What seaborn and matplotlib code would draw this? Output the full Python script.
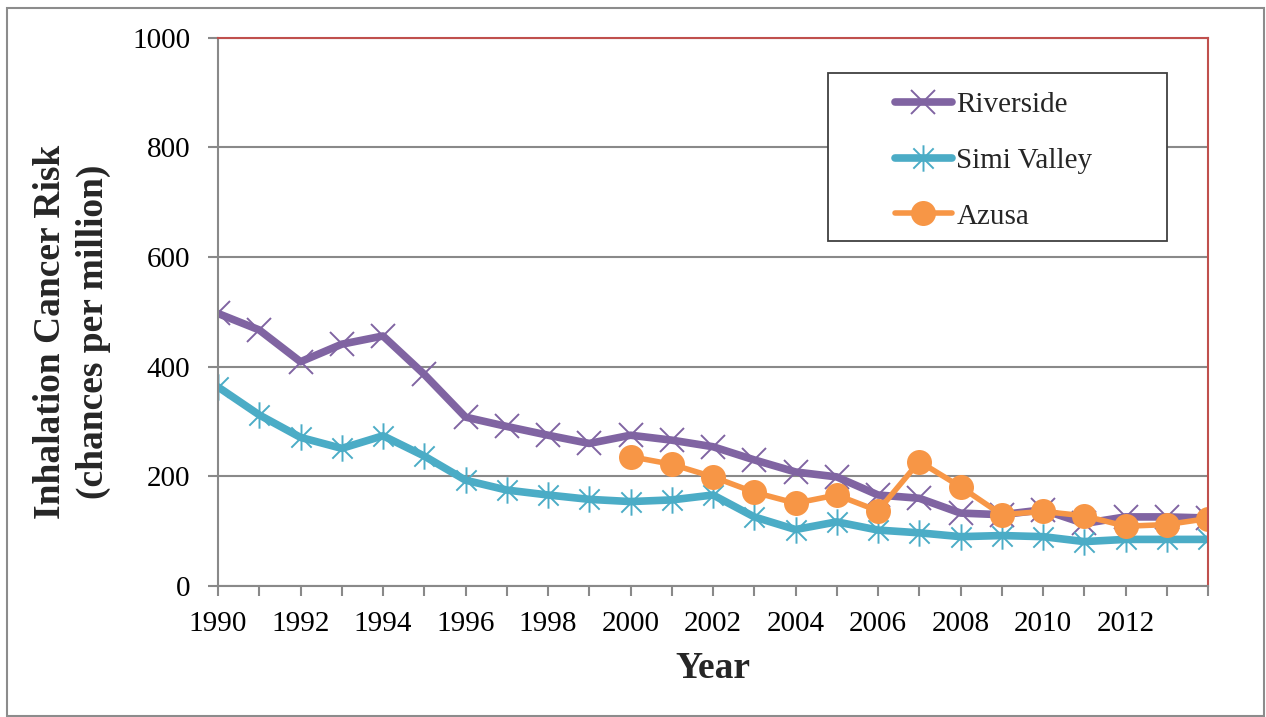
import numpy as np
import pandas as pd
import seaborn as sns
import matplotlib.pyplot as plt
from matplotlib.path import Path
from matplotlib.patches import Rectangle

# Annual inhalation cancer risk (chances per million)
years = list(range(1990, 2015))
riverside = [497, 467, 409, 441, 456, 386, 308, 291, 275, 260,
             275, 266, 254, 230, 208, 199, 166, 160, 133, 130,
             139, 114, 126, 126, 124]
simi_valley = [363, 312, 271, 251, 274, 237, 193, 175, 166, 158,
               154, 157, 166, 126, 103, 117, 102, 97, 90, 92,
               90, 81, 85, 85, 85]
azusa_years = list(range(2000, 2015))
azusa = [236, 222, 199, 171, 151, 166, 137, 227, 181, 130,
         136, 128, 109, 112, 123]

series_names = ["Riverside", "Simi Valley", "Azusa"]
colors = {"Riverside": "#8064A2", "Simi Valley": "#4BACC6", "Azusa": "#F79646"}

df = pd.concat([
    pd.DataFrame({"Year": years, "Risk": riverside, "Site": "Riverside"}),
    pd.DataFrame({"Year": years, "Risk": simi_valley, "Site": "Simi Valley"}),
    pd.DataFrame({"Year": azusa_years, "Risk": azusa, "Site": "Azusa"}),
])

sns.set_theme(style="white")
plt.rcParams["font.family"] = ["Liberation Serif", "DejaVu Serif"]

# Asterisk marker: an X plus a vertical stroke
star = Path(
    [(-1, -1), (1, 1), (-1, 1), (1, -1), (0, -1.3), (0, 1.3)],
    [Path.MOVETO, Path.LINETO, Path.MOVETO, Path.LINETO, Path.MOVETO, Path.LINETO],
)

fig = plt.figure(figsize=(12.66, 7.17), dpi=100)
ax = fig.add_axes([218 / 1266, 1 - 586 / 717, (1208 - 218) / 1266, (586 - 37.7) / 717])

styles = {
    "Riverside": dict(marker="x", markersize=17, markeredgewidth=1.4, linewidth=5.5),
    "Simi Valley": dict(marker=star, markersize=19, markeredgewidth=1.4, linewidth=5.5),
    "Azusa": dict(marker="o", markersize=18, markeredgewidth=0, linewidth=4),
}
for name in series_names:
    sub = df[df["Site"] == name]
    sns.lineplot(data=sub, x="Year", y="Risk", ax=ax, color=colors[name],
                 label=name, solid_capstyle="round", solid_joinstyle="round",
                 markeredgecolor=colors[name], markerfacecolor=colors[name],
                 **styles[name])

ax.set_xlim(1990, 2014)
ax.set_ylim(0, 1000)
ax.set_yticks(range(0, 1001, 200))
ax.set_xticks(years)
ax.set_xticklabels([str(y) if (y % 2 == 0 and y < 2014) else "" for y in years])
ax.yaxis.grid(True, color="#898989", linewidth=1.5)
ax.set_axisbelow(True)

for side in ["left", "bottom"]:
    ax.spines[side].set_color("#898989")
    ax.spines[side].set_linewidth(1.5)
for side in ["top", "right"]:
    ax.spines[side].set_color("#C0504D")
    ax.spines[side].set_linewidth(1.5)

ax.tick_params(axis="both", which="major", direction="out", length=7,
               width=1.5, color="#898989", labelsize=21, labelcolor="black",
               bottom=True, left=True)
ax.tick_params(axis="x", pad=11)
ax.tick_params(axis="y", pad=13)

ax.set_xlabel("Year", fontsize=27, fontweight="bold", labelpad=10)
ax.set_ylabel("Inhalation Cancer Risk\n(chances per million)", fontsize=27,
              fontweight="bold", linespacing=1.3)
ax.yaxis.set_label_coords(-0.108, 0.463)

# Legend with a square frame drawn in figure coordinates
ax.add_patch(Rectangle((828 / 1266, 1 - 241 / 717), (1167 - 828) / 1266,
                       (241 - 73) / 717, transform=fig.transFigure,
                       fill=True, facecolor="white", edgecolor="#404040",
                       linewidth=1.3, zorder=5, clip_on=False))
leg = ax.legend(loc="upper left", bbox_to_anchor=(895 / 1266, 1 - 92 / 717),
                bbox_transform=fig.transFigure, frameon=False, fontsize=21,
                handlelength=1.95, handletextpad=0.15, labelspacing=1.0,
                borderpad=0, borderaxespad=0)
leg.set_zorder(6)

# Outer chart border
fig.patches.append(Rectangle((7 / 1266, 1 - 716 / 717), 1257 / 1266, 708 / 717,
                             transform=fig.transFigure, fill=False,
                             edgecolor="#8c8c8c", linewidth=1.5, zorder=0))

fig.savefig("out.png", dpi=100, facecolor="white")
